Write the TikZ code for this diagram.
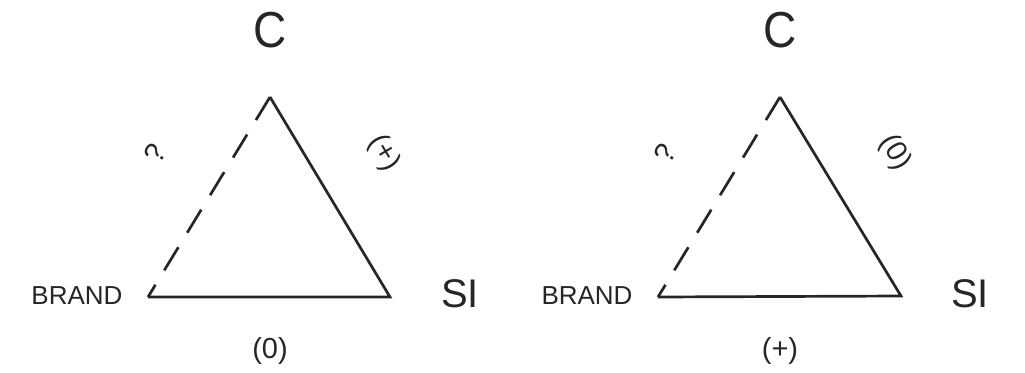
\documentclass[tikz,border=0pt]{standalone}
\usepackage{fontspec}
\setmainfont{Liberation Sans}
\begin{document}
\begin{tikzpicture}[x=1pt,y=-1pt,
  edge/.style={line width=2.7pt, draw=black!85, line join=miter},
  dashedge/.style={edge, dash pattern=on 27pt off 17pt},
  big/.style={font=\fontsize{46}{46}\selectfont, text=black!85, inner sep=0pt, yscale=1.1},
  mid/.style={font=\fontsize{40}{40}\selectfont, text=black!85, inner sep=0pt},
  small/.style={font=\fontsize{26}{26}\selectfont, text=black!85, inner sep=0pt},
  sign/.style={font=\fontsize{29}{29}\selectfont, text=black!85, inner sep=0pt}]
\useasboundingbox (0,0) rectangle (1025,372);
% left triangle
\coordinate (Lc) at (270,97);
\coordinate (Lb) at (148,297);
\coordinate (Ls) at (390,297);
\draw[dashedge] (Lc) -- (Lb);
\draw[edge] (Lb) -- (Ls) -- (Lc);
\node[big] (LC) at (270,30) {C};
\node[mid] (LSI) at (460,294) {SI};
\node[small] (LBR) at (77,296) {BRAND};
\node[sign] (Lbot) at (270,351) {(0)};
\node[sign, rotate=58.6] (Lq) at (155,153) {?};
\node[sign, rotate=-59] (Lr) at (384,153) {(+)};
% right triangle
\coordinate (Rc) at (780,97);
\coordinate (Rb) at (658,297);
\coordinate (Rs) at (901,296);
\draw[dashedge] (Rc) -- (Rb);
\draw[edge] (Rb) -- (Rs) -- (Rc);
\node[big] (RC) at (780,30) {C};
\node[mid] (RSI) at (970,294) {SI};
\node[small] (RBR) at (587,296) {BRAND};
\node[sign] (Rbot) at (780,351) {(+)};
\node[sign, rotate=58.6] (Rq) at (665,153) {?};
\node[sign, rotate=-59] (Rr) at (895,153) {(0)};
\end{tikzpicture}
\end{document}
